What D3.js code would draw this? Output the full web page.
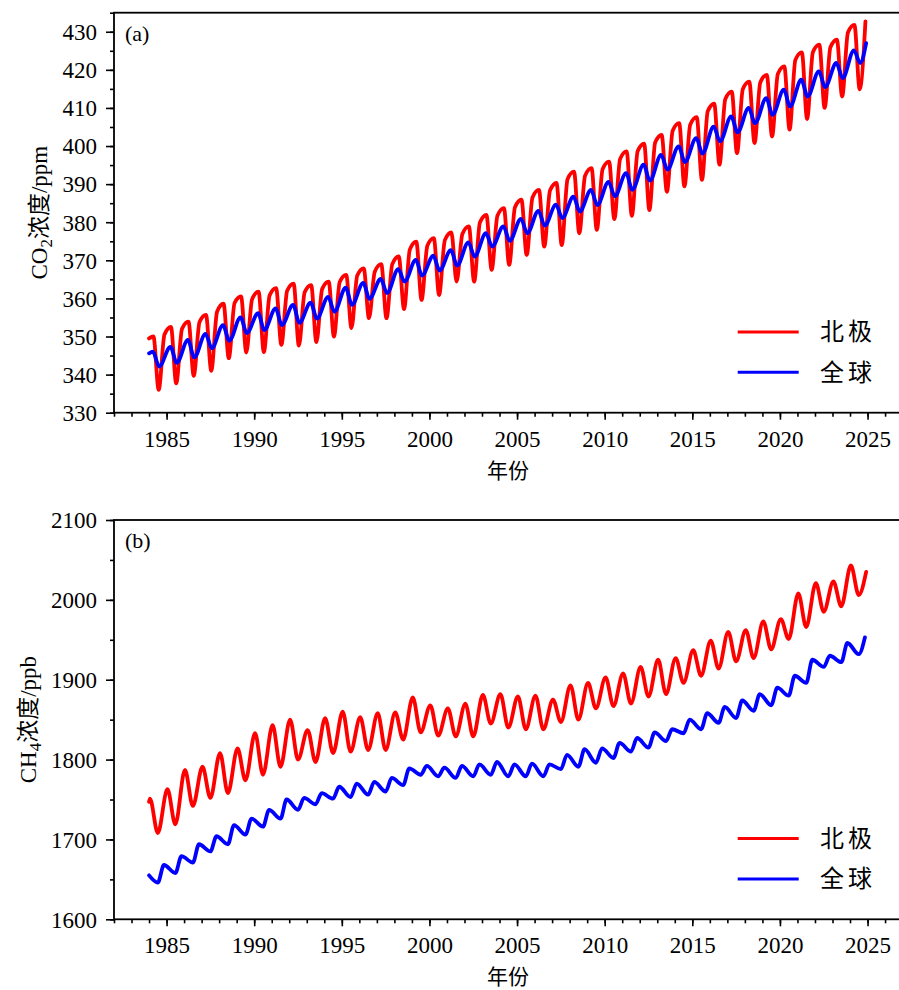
<!DOCTYPE html>
<html>
<head>
<meta charset="utf-8">
<script src="https://cdn.jsdelivr.net/npm/d3@7"></script>
<style>
  body { margin: 0; background: #fff; }
  svg text { font-family: "Liberation Serif", "Noto Sans CJK SC", serif; fill: #000; }
  .cjk { font-family: "Noto Sans CJK SC", sans-serif; }
</style>
</head>
<body>
<svg id="chart" width="899" height="990"></svg>
<script>
// ---- data: yearly seasonal extremes, 1984–2024 ----
const years = d3.range(1984, 2025);
const xTickYears = [1985, 1990, 1995, 2000, 2005, 2010, 2015, 2020, 2025];
const co2Ticks = [330, 340, 350, 360, 370, 380, 390, 400, 410, 420, 430];
const ch4Ticks = [1600, 1700, 1800, 1900, 2000, 2100];
const seriesNames = ["北极", "全球"];

// CO2 (ppm), Arctic station: spring maximum, summer minimum, early-winter level
const co2ArcticPeak = [350.0, 352.5, 353.9, 355.7, 358.6, 360.5, 361.8, 362.7, 363.9, 363.5,
  364.4, 366.2, 367.9, 369.0, 371.0, 374.9, 375.8, 377.3, 378.9, 381.9,
  383.7, 385.9, 388.5, 390.3, 393.3, 394.2, 395.9, 398.6, 400.6, 402.9,
  406.0, 407.6, 411.1, 414.3, 416.9, 418.7, 420.9, 424.6, 426.6, 427.9, 431.8];
const co2ArcticLow = [336.0, 337.7, 339.7, 341.0, 344.3, 345.8, 345.9, 347.8, 347.6, 348.5,
  350.0, 352.2, 354.8, 354.8, 357.2, 359.6, 360.9, 364.4, 364.4, 367.5,
  368.8, 371.4, 373.6, 374.0, 377.1, 378.0, 380.8, 381.7, 383.2, 388.0,
  389.4, 391.1, 395.1, 398.1, 400.8, 402.5, 404.3, 407.1, 410.0, 413.0, 414.9];
const co2ArcticWinter = [350.5, 352.0, 353.8, 356.5, 358.8, 359.8, 360.8, 362.0, 361.6, 362.5,
  364.3, 366.0, 367.0, 369.0, 372.8, 373.8, 375.3, 376.9, 379.9, 381.7,
  383.9, 386.5, 388.3, 391.3, 392.2, 393.9, 396.6, 398.6, 400.9, 404.0,
  405.6, 409.1, 412.3, 414.9, 416.7, 418.9, 422.6, 424.6, 425.9, 429.8, 432.7];
const co2ArcticStart = 349.5;

// CO2 (ppm), global mean
const co2GlobalPeak = [346.0, 347.3, 349.1, 350.7, 353.0, 355.0, 356.1, 357.4, 358.3, 358.9,
  360.4, 362.8, 364.1, 365.1, 367.7, 370.1, 371.2, 372.7, 374.7, 377.1,
  378.9, 380.9, 383.0, 384.6, 386.7, 388.5, 390.6, 392.9, 395.1, 397.7,
  399.9, 402.1, 405.1, 407.8, 410.0, 412.6, 414.8, 417.4, 419.6, 421.8, 425.1];
const co2GlobalLow = [342.1, 343.1, 344.5, 346.9, 348.9, 350.9, 351.7, 353.0, 353.6, 354.7,
  356.5, 358.3, 359.9, 361.4, 364.4, 366.0, 367.3, 368.6, 371.0, 373.6,
  375.1, 377.1, 379.1, 381.1, 382.8, 384.5, 386.8, 388.5, 390.9, 393.8,
  395.8, 398.0, 401.2, 403.6, 406.0, 408.2, 410.4, 413.0, 415.5, 417.8, 421.8];
const co2GlobalStart = 345.6;
const co2GlobalEnd = 427.0;

// CH4 (ppb), Arctic station: winter maximum, summer minimum
const ch4ArcticPeak = [1751, 1763, 1787, 1791, 1808, 1814, 1833, 1843, 1850, 1837,
  1852, 1860, 1853, 1858, 1859, 1878, 1868, 1864, 1870, 1881,
  1882, 1879, 1880, 1875, 1893, 1896, 1903, 1908, 1916, 1925,
  1927, 1937, 1949, 1960, 1962, 1973, 1976, 2008, 2021, 2023, 2043];
const ch4ArcticLow = [1708, 1719, 1742, 1752, 1758, 1774, 1781, 1791, 1800, 1797,
  1808, 1810, 1812, 1812, 1825, 1834, 1830, 1829, 1829, 1845,
  1840, 1838, 1838, 1847, 1850, 1864, 1867, 1870, 1879, 1882,
  1896, 1905, 1914, 1923, 1927, 1938, 1951, 1966, 1985, 1992, 2006];
const ch4ArcticStart = 1747;
const ch4ArcticEnd = 2035;

// CH4 (ppb), global mean: summer minimum, early-winter maximum
const ch4GlobalLow = [1646, 1658, 1671, 1685, 1694, 1706, 1716, 1726, 1737, 1744,
  1751, 1753, 1756, 1760, 1768, 1781, 1779, 1777, 1779, 1781,
  1779, 1779, 1779, 1788, 1791, 1796, 1802, 1810, 1815, 1823,
  1833, 1838, 1846, 1852, 1861, 1868, 1880, 1896, 1916, 1922, 1932];
const ch4GlobalPeak = [1668, 1679, 1694, 1704, 1718, 1726, 1737, 1750, 1752, 1758,
  1766, 1770, 1772, 1777, 1789, 1792, 1790, 1792, 1794, 1797,
  1794, 1795, 1794, 1806, 1813, 1814, 1821, 1827, 1834, 1838,
  1850, 1858, 1866, 1874, 1882, 1890, 1905, 1925, 1930, 1946, 1953];
const ch4GlobalStart = 1655;

// time of year (fraction) at which each seasonal value is placed
const FIRST_T = 1984.0, LAST_T = 2024.92;

function seasonal(startValue, phases, endValue) {
  const pts = [{ t: FIRST_T, v: startValue }];
  years.forEach((y, i) => phases.forEach(p => pts.push({ t: y + p.offset, v: p.values[i] })));
  if (endValue != null) pts.push({ t: LAST_T, v: endValue });
  return pts;
}

const panels = [
  {
    top: 12.7, bottom: 412.7, domain: [330, 435], ticks: co2Ticks, minorStep: 5,
    tag: "(a)", ytitle: ["CO", "2", "浓度/ppm"], ytitleX: 39,
    series: [
      seasonal(co2ArcticStart, [
        { offset: 0.25, values: co2ArcticPeak },
        { offset: 0.55, values: co2ArcticLow },
        { offset: 0.88, values: co2ArcticWinter }]),
      seasonal(co2GlobalStart, [
        { offset: 0.22, values: co2GlobalPeak },
        { offset: 0.58, values: co2GlobalLow }], co2GlobalEnd)
    ]
  },
  {
    top: 520, bottom: 919.3, domain: [1600, 2100], ticks: ch4Ticks, minorStep: 50,
    tag: "(b)", ytitle: ["CH", "4", "浓度/ppb"], ytitleX: 28,
    series: [
      seasonal(ch4ArcticStart, [
        { offset: 0.05, values: ch4ArcticPeak },
        { offset: 0.5, values: ch4ArcticLow }], ch4ArcticEnd),
      seasonal(ch4GlobalStart, [
        { offset: 0.5, values: ch4GlobalLow },
        { offset: 0.85, values: ch4GlobalPeak }])
    ]
  }
];

const colors = ["#ff0000", "#0000ff"];
const svg = d3.select("#chart");
const left = 114, right = 902.6;
const x = d3.scaleLinear().domain([1982, 2027]).range([left, right]);

panels.forEach(p => {
  const y = d3.scaleLinear().domain(p.domain).range([p.bottom, p.top]);
  const g = svg.append("g");

  // minor ticks
  g.append("g").attr("transform", `translate(0,${p.bottom})`)
    .call(d3.axisBottom(x).tickValues(d3.range(1982, 2027)).tickSize(4).tickSizeOuter(0).tickFormat(""))
    .call(a => a.select(".domain").remove());
  g.append("g").attr("transform", `translate(${left},0)`)
    .call(d3.axisLeft(y).tickValues(d3.range(p.domain[0], p.domain[1] + 0.01, p.minorStep)).tickSize(4).tickSizeOuter(0).tickFormat(""))
    .call(a => a.select(".domain").remove());

  // major ticks with labels
  const xa = g.append("g").attr("transform", `translate(0,${p.bottom})`)
    .call(d3.axisBottom(x).tickValues(xTickYears).tickSize(7).tickSizeOuter(0).tickFormat(d3.format("d")));
  xa.select(".domain").remove();
  xa.selectAll("text").attr("y", 34).attr("dy", 0).style("font-size", "23px");

  const ya = g.append("g").attr("transform", `translate(${left},0)`)
    .call(d3.axisLeft(y).tickValues(p.ticks).tickSize(8).tickPadding(9).tickSizeOuter(0).tickFormat(d3.format("d")));
  ya.select(".domain").remove();
  ya.selectAll("text").attr("dy", "0.34em").style("font-size", "23px");

  g.selectAll(".tick line").attr("stroke", "#000").attr("stroke-width", 1.6);

  // frame
  g.append("rect").attr("x", left).attr("y", p.top)
    .attr("width", right - left).attr("height", p.bottom - p.top)
    .attr("fill", "none").attr("stroke", "#000").attr("stroke-width", 1.8);

  // series lines
  const line = d3.line().x(d => x(d.t)).y(d => y(d.v)).curve(d3.curveMonotoneX);
  p.series.forEach((s, i) => {
    g.append("path").datum(s).attr("d", line)
      .attr("fill", "none").attr("stroke", colors[i]).attr("stroke-width", 3.8)
      .attr("stroke-linejoin", "round").attr("stroke-linecap", "round");
  });

  // panel tag
  g.append("text").attr("x", 125).attr("y", p.top + 28).style("font-size", "22px").text(p.tag);

  // axis titles
  const yt = g.append("text")
    .attr("transform", `translate(${p.ytitleX},${(p.top + p.bottom) / 2}) rotate(-90)`)
    .attr("text-anchor", "middle").attr("dy", "0.35em").style("font-size", "23px");
  yt.append("tspan").text(p.ytitle[0]);
  yt.append("tspan").attr("dy", 5).style("font-size", "17px").text(p.ytitle[1]);
  yt.append("tspan").attr("dy", -5).attr("class", "cjk").text(p.ytitle[2].slice(0, 2));
  yt.append("tspan").text(p.ytitle[2].slice(2));

  g.append("text").attr("class", "cjk")
    .attr("x", 508).attr("y", p.bottom + 65)
    .attr("text-anchor", "middle").style("font-size", "21px").text("年份");

  // legend
  seriesNames.forEach((name, i) => {
    const ly = p.bottom - 80.7 + i * 40.3;
    g.append("line").attr("x1", 737.7).attr("x2", 798.7).attr("y1", ly).attr("y2", ly)
      .attr("stroke", colors[i]).attr("stroke-width", 3);
    g.append("text").attr("class", "cjk").attr("x", 820).attr("y", ly)
      .attr("dy", "0.35em").style("font-size", "24px").style("letter-spacing", "4px").text(name);
  });
});
</script>
</body>
</html>
